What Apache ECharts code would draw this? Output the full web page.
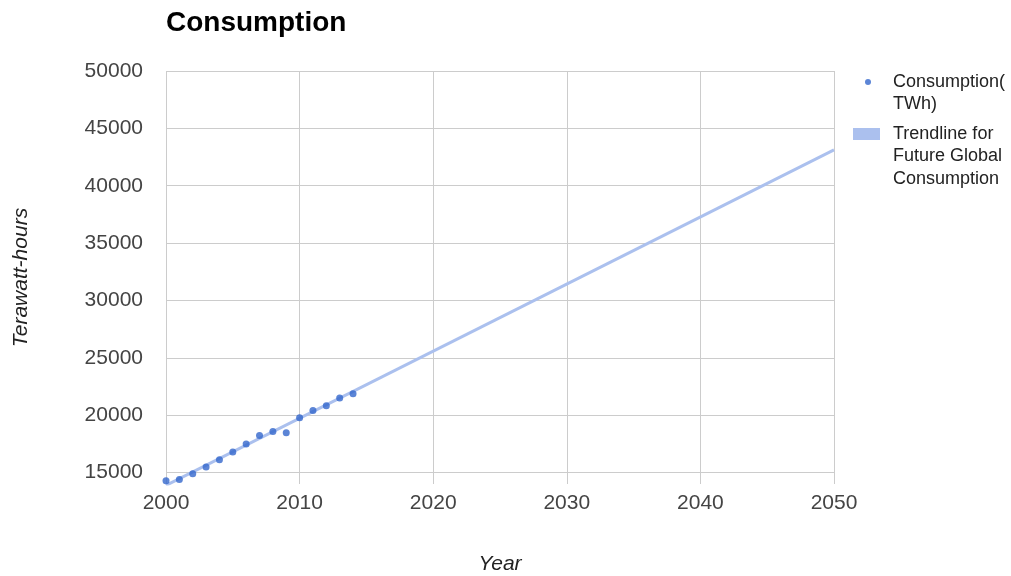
<!DOCTYPE html>
<html>
<head>
<meta charset="utf-8">
<script src="https://cdn.jsdelivr.net/npm/echarts@6/dist/echarts.min.js"></script>
<style>
  html, body { margin: 0; padding: 0; background: #fff; }
  #chart { width: 1011px; height: 576px; }
</style>
</head>
<body>
<div id="chart"></div>
<script>
// Yearly electricity consumption (TWh)
const years = [2000, 2001, 2002, 2003, 2004, 2005, 2006, 2007, 2008, 2009, 2010, 2011, 2012, 2013, 2014];
const consumption = [14290, 14400, 14890, 15490, 16110, 16800, 17490, 18230, 18570, 18460, 19770, 20400, 20830, 21490, 21860];

// Straight trendline endpoints projected out to 2050
const trendYears = [2000, 2050];
const trendValues = [13880, 43120];

// Axis ticks
const yTickValues = [15000, 20000, 25000, 30000, 35000, 40000, 45000, 50000];

const seriesNames = ['Consumption(TWh)', 'Trendline for Future Global Consumption'];
const legendLines = [['Consumption(', 'TWh)'], ['Trendline for', 'Future Global', 'Consumption']];

const FONT = '"Liberation Sans", Arial, sans-serif';
const LEGEND_LH = 22.5;

// Legend text is centred on its icon; blank leading lines push the
// first written line level with the icon.
function legendText(lines) {
  return '\n'.repeat(lines.length - 1) + lines.join('\n');
}

const chart = echarts.init(document.getElementById('chart'), null, { renderer: 'canvas' });

chart.setOption({
  animation: false,
  backgroundColor: '#fff',
  textStyle: { fontFamily: FONT },
  title: {
    text: 'Consumption',
    left: 166,
    top: 9,
    padding: 0,
    textStyle: { fontFamily: FONT, fontSize: 28, fontWeight: 'bold', color: '#000' }
  },
  legend: [
    {
      orient: 'vertical',
      left: 865,
      top: 82 - LEGEND_LH * 1.5,
      padding: 0,
      itemWidth: 6,
      itemHeight: 6,
      selectedMode: false,
      data: [{ name: seriesNames[0], icon: 'circle' }],
      formatter: () => legendText(legendLines[0]),
      textStyle: {
        fontFamily: FONT, fontSize: 18, color: '#222',
        lineHeight: LEGEND_LH, padding: [0, 0, 0, 17]
      }
    },
    {
      orient: 'vertical',
      left: 853,
      top: 134 - LEGEND_LH * 2.5,
      padding: 0,
      itemWidth: 27,
      itemHeight: 12,
      selectedMode: false,
      data: [{ name: seriesNames[1], icon: 'rect' }],
      formatter: () => legendText(legendLines[1]),
      textStyle: {
        fontFamily: FONT, fontSize: 18, color: '#222',
        lineHeight: LEGEND_LH, padding: [0, 0, 0, 8]
      }
    }
  ],
  grid: {
    left: 166, right: 177, top: 71, bottom: 92,
    containLabel: false,
    outerBoundsMode: 'none'
  },
  xAxis: {
    type: 'value',
    min: 2000,
    max: 2050,
    interval: 10,
    name: 'Year',
    nameLocation: 'middle',
    nameGap: 70,
    nameTextStyle: { fontFamily: FONT, fontSize: 21, fontStyle: 'italic', color: '#222' },
    axisLine: { show: false },
    axisTick: { show: false },
    axisLabel: {
      margin: 9,
      fontFamily: FONT, fontSize: 21, color: '#444',
      formatter: v => String(v)
    },
    splitLine: { show: true, lineStyle: { color: '#ccc', width: 1 } }
  },
  yAxis: {
    type: 'value',
    min: 14000,
    max: 50000,
    name: 'Terawatt-hours',
    nameLocation: 'middle',
    nameGap: 134,
    nameTextStyle: { fontFamily: FONT, fontSize: 21, fontStyle: 'italic', color: '#222' },
    axisLine: { show: false },
    axisTick: { show: false, customValues: yTickValues },
    axisLabel: {
      margin: 23,
      customValues: yTickValues,
      fontFamily: FONT, fontSize: 21, color: '#444',
      formatter: v => String(v)
    },
    splitLine: { show: true, lineStyle: { color: '#ccc', width: 1 } }
  },
  series: [
    {
      name: seriesNames[1],
      type: 'line',
      data: trendYears.map((y, i) => [y, trendValues[i]]),
      showSymbol: false,
      silent: true,
      color: '#abc0ee',
      lineStyle: { color: '#abc0ee', width: 3 },
      z: 2
    },
    {
      name: seriesNames[0],
      type: 'scatter',
      data: years.map((y, i) => [y, consumption[i]]),
      symbol: 'circle',
      symbolSize: 7,
      color: '#3366cc',
      itemStyle: { color: '#3366cc' },
      z: 3
    }
  ]
});
</script>
</body>
</html>
